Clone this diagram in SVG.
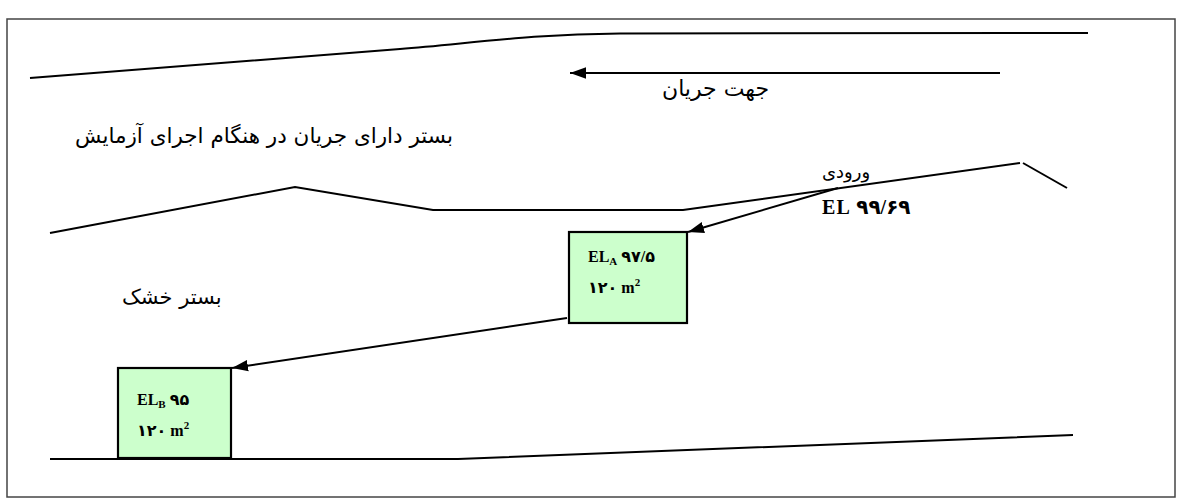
<svg xmlns="http://www.w3.org/2000/svg" width="1180" height="503" viewBox="0 0 1180 503">
<style>
.ln{fill:none;stroke:#000;stroke-width:2}
.box{fill:#ccffcc;stroke:#000;stroke-width:2.2}
.fa{font-family:"DejaVu Sans","Noto Sans",sans-serif;fill:#000}
.lb{font-family:"Liberation Serif","DejaVu Serif","DejaVu Sans",serif;font-weight:bold;fill:#000}
</style>
<defs>
<marker id="ah2" viewBox="0 0 14 10" refX="14" refY="5" markerWidth="16" markerHeight="12" markerUnits="userSpaceOnUse" orient="auto">
<path d="M0,0 L14,5 L0,10 z" fill="#000"/>
</marker>
</defs>
<rect x="7" y="19" width="1168" height="478" fill="#fff" stroke="#444" stroke-width="1.5"/>
<g id="terrain">
<path class="ln" d="M30,78 L400,49 C470,43.5 530,34 620,33.5 L1088,33"/>
<path class="ln" d="M50,233 L295,187 L433,210 L683,210 L1020,163"/>
<path class="ln" d="M1023,163 L1067,188"/>
<path class="ln" d="M50,459 L458,459 L1073,435"/>
</g>
<g id="flow-direction">
<line class="ln" x1="1000" y1="73" x2="570" y2="73" marker-end="url(#ah2)"/>
<text class="fa" x="662" y="96" font-size="22">جهت جریان</text>
</g>
<g id="label-flow-bed">
<text class="fa" x="75" y="143" font-size="21.5">بستر دارای جریان در هنگام اجرای آزمایش</text>
</g>
<g id="label-dry-bed">
<text class="fa" x="122" y="304" font-size="21">بستر خشک</text>
</g>
<g id="inlet">
<text class="fa" x="822" y="178" font-size="18">ورودی</text>
<text class="lb" x="822" y="214" font-size="20" letter-spacing="1.2">EL ۹۹/۶۹</text>
</g>
<g id="box-a">
<rect class="box" x="569" y="232" width="118" height="91"/>
<text class="lb" x="588" y="262" font-size="16">EL<tspan font-size="11" dy="3">A</tspan><tspan dy="-3"> ۹۷/۵</tspan></text>
<text class="lb" x="588" y="293" font-size="16">۱۲۰ m<tspan font-size="11" dy="-7">2</tspan></text>
</g>
<g id="box-b">
<rect class="box" x="118" y="368" width="113" height="90"/>
<text class="lb" x="137" y="405" font-size="16">EL<tspan font-size="11" dy="3">B</tspan><tspan dy="-3"> ۹۵</tspan></text>
<text class="lb" x="137" y="436" font-size="16">۱۲۰ m<tspan font-size="11" dy="-7">2</tspan></text>
</g>
<g id="connectors">
<line class="ln" x1="838" y1="188" x2="688" y2="232" marker-end="url(#ah2)"/>
<line class="ln" x1="567" y1="318" x2="232" y2="368" marker-end="url(#ah2)"/>
</g>
</svg>
